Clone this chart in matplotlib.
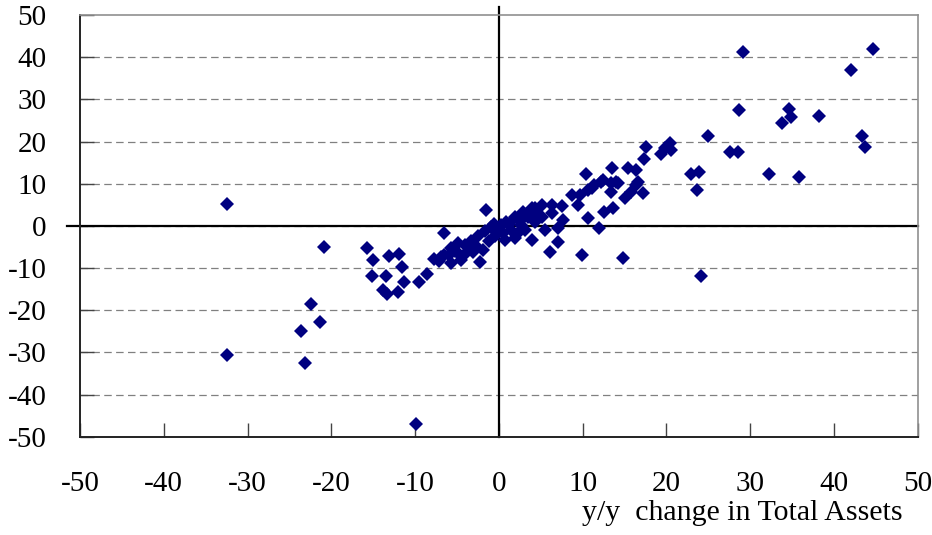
import numpy as np
import matplotlib.pyplot as plt

# y/y change in Total Assets (x) vs. y/y change (y)
asset_chg = [
    -32.4, -32.4, -23.1, -23.6, -22.4, -21.4, -20.9, -9.9,
    -15.7, -15.0, -13.1, -11.9, -11.6, -15.1, -13.5, -13.8, -13.4, -12.0,
    -11.3, -9.5, -8.6, -6.5, -1.5,
    -7.7, -7.1, -6.9, -6.5, -5.7, -5.7, -4.9, -4.9, -4.5, -4.1, -3.9, -3.3,
    -3.1, -2.5, -2.3, -1.9, -1.7, -0.9, -0.6, -0.5, -2.8, -3.6, -5.2, -6.0,
    -1.2, -0.3,
    0.7, 0.9, 1.5, 1.9, 1.9, 2.3, 2.9, 3.1, 3.9, 3.9, 4.3, 4.3, 5.1, 5.1,
    5.5, 6.3, 6.3, 6.1, 7.1, 7.1, 7.5, 7.7, 8.7, 9.5, 9.9, 10.7, 12.0,
    0.3, 1.2, 2.5, 3.5, 0.5, 2.7, 4.6,
    9.7, 10.4, 10.7, 11.1, 11.4, 12.2, 12.4, 12.6, 13.5, 13.4, 13.4, 13.6,
    14.0, 14.2, 14.8, 15.0, 15.4, 15.8, 16.4, 16.4, 16.6, 17.2, 17.3, 17.6,
    19.3, 19.8, 20.4, 20.6,
    22.9, 23.9, 23.6, 24.1, 25.0, 27.6, 28.5, 28.7, 29.1, 32.2, 33.8, 34.6,
    34.9, 35.8, 38.2, 42.0, 44.7, 43.4, 43.7,
]
other_chg = [
    5.1, -30.6, -32.5, -24.9, -18.6, -22.9, -4.9, -47.1,
    -5.3, -8.2, -7.2, -6.6, -9.7, -11.9, -11.9, -15.2, -16.2, -15.6,
    -13.2, -13.4, -11.4, -1.6, 3.7,
    -7.9, -8.3, -7.3, -6.9, -5.2, -8.9, -4.1, -6.5, -8.2, -4.5, -6.5, -3.7,
    -6.2, -2.5, -8.5, -5.7, -1.3, -0.2, 0.5, -2.5, -4.5, -5.0, -6.0, -7.0,
    -3.5, -1.5,
    -3.3, 1.0, -1.0, 2.2, -2.9, -1.7, 3.4, -1.0, 4.2, -3.3, 1.0, 4.2, 5.0, 2.2,
    -1.0, 5.0, 3.0, -6.1, -3.8, -0.6, 4.8, 1.4, 7.4, 5.0, -6.9, 1.8, -0.6,
    0.2, 0.5, 1.2, 2.0, -1.8, 0.3, 3.0,
    7.4, 12.3, 8.6, 9.0, 9.7, 10.5, 10.9, 3.4, 13.7, 10.1, 8.1, 4.3,
    10.5, 10.1, -7.7, 6.5, 13.7, 8.1, 13.2, 9.7, 10.5, 7.8, 15.9, 18.6,
    17.0, 18.5, 19.6, 18.1,
    12.2, 12.7, 8.4, -12.0, 21.2, 17.4, 17.4, 27.4, 41.2, 12.3, 24.5, 27.6,
    25.8, 11.7, 26.0, 36.9, 42.0, 21.2, 18.8,
]
ticks = np.arange(-50, 51, 10)

plt.rcParams['font.family'] = ['Liberation Serif', 'DejaVu Serif']

fig = plt.figure(figsize=(9.32, 5.35), dpi=100)
ax = fig.add_axes([80 / 932, 1 - 436.7 / 535, 837.7 / 932, 421.7 / 535])

ax.set_xlim(-50, 50)
ax.set_ylim(-50, 50)
ax.set_xticks(ticks)
ax.set_yticks(ticks)

# dashed horizontal grid
for yv in ticks[1:-1]:
    ax.axhline(yv, color='#808080', lw=0.9, ls=(0, (6, 3.5)), zorder=1)

# axes crossing at zero
ax.plot([-51.5, 50], [0, 0], color='black', lw=1.6, clip_on=False, zorder=2)
ax.plot([0, 0], [-50, 52], color='black', lw=1.6, clip_on=False, zorder=2)

ax.plot(asset_chg, other_chg, linestyle='none', marker='D', ms=7.2,
        mew=0, color='#000080', zorder=3)

for side in ['top', 'right']:
    ax.spines[side].set_color('#909090')
    ax.spines[side].set_linewidth(1.2)
for side in ['left', 'bottom']:
    ax.spines[side].set_color('#222222')
    ax.spines[side].set_linewidth(1.4)

ax.tick_params(axis='x', direction='in', length=10, width=1, color='#444444',
               pad=25, labelsize=21)
ax.tick_params(axis='y', direction='in', length=10, width=1, color='#444444',
               pad=24, labelsize=21)
ax.set_xticklabels([str(t) for t in ticks])
ax.set_yticklabels([str(t) for t in ticks])

fig.text(903 / 932, 1 - 520 / 535, 'y/y  change in Total Assets',
         ha='right', va='baseline', fontsize=21.5)

plt.savefig('out.png', dpi=100)
